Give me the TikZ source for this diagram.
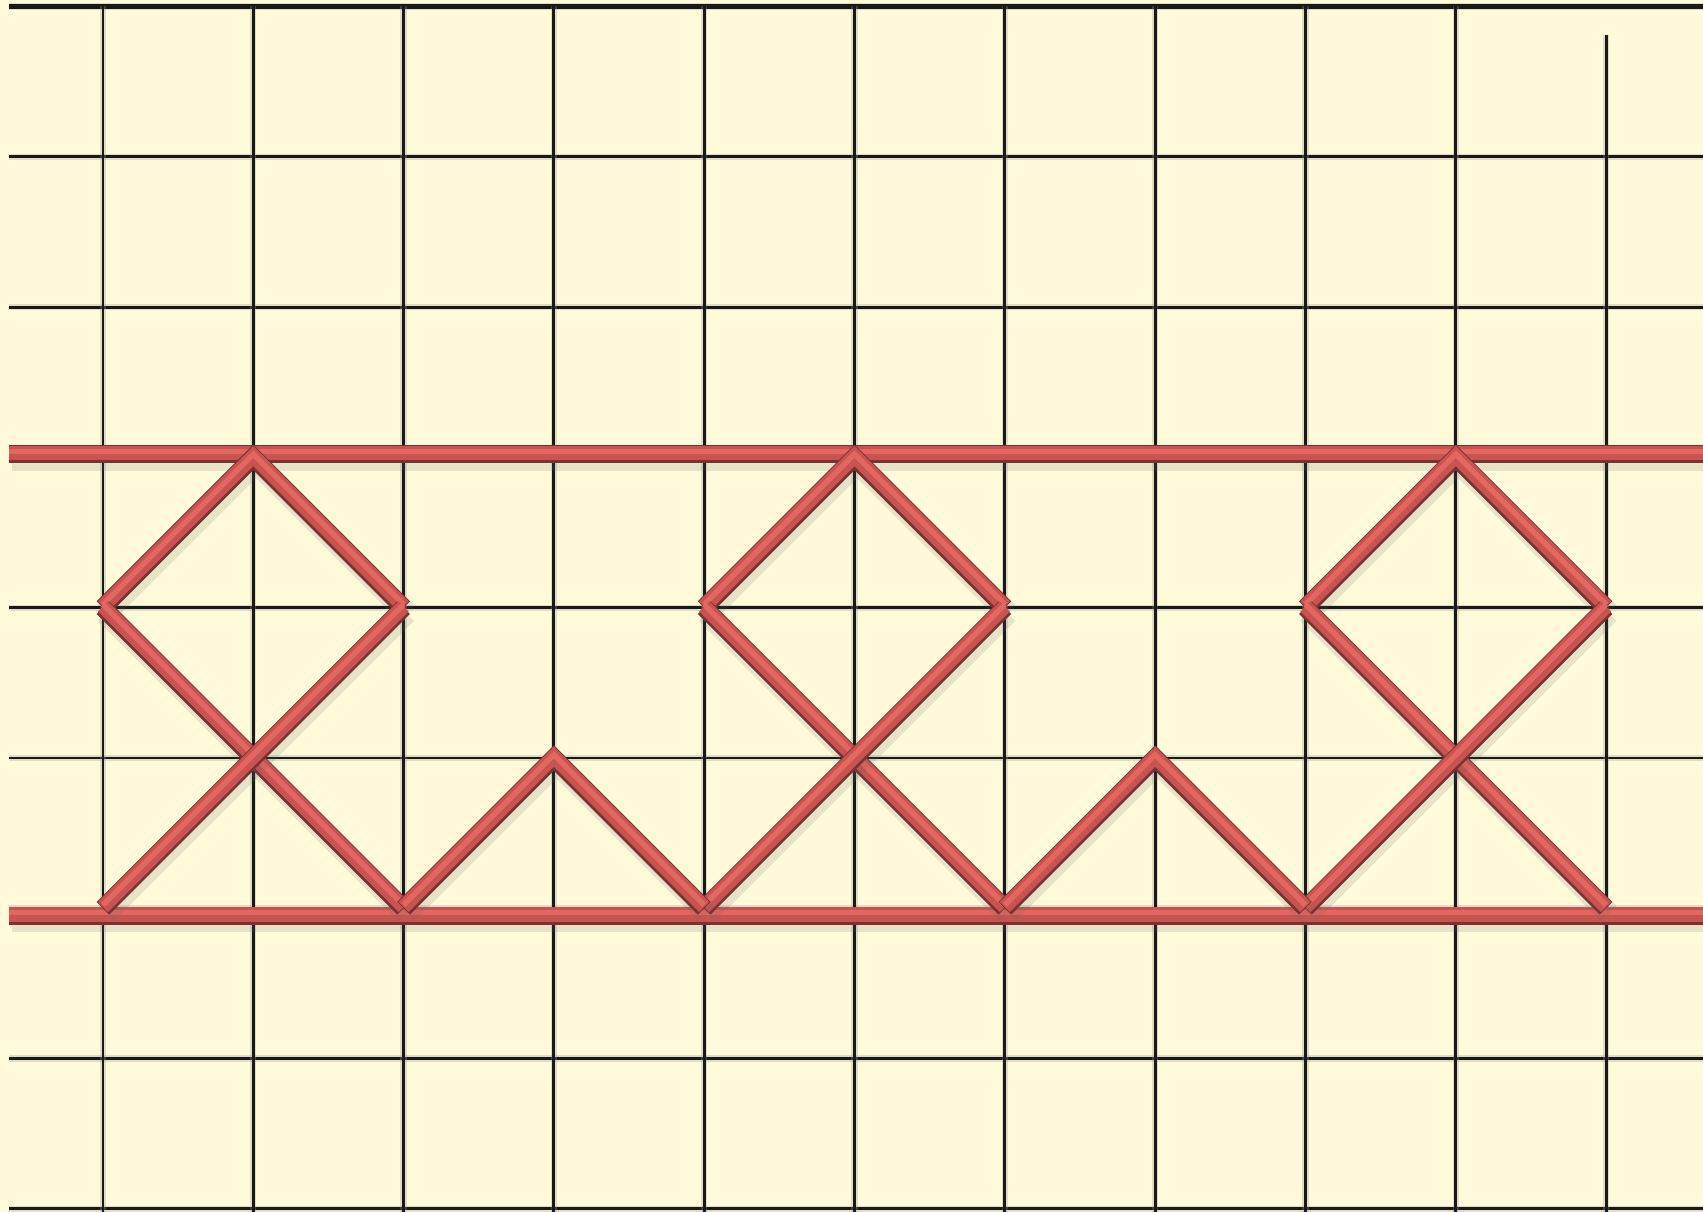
\documentclass[tikz,border=0pt]{standalone}
\usetikzlibrary{calc}
\definecolor{paper}{RGB}{255,250,218}
\definecolor{rodmid}{RGB}{200,84,82}
\definecolor{rodlight}{RGB}{228,102,96}
\definecolor{roddark}{RGB}{122,50,50}
\tikzset{
  gridline/.style={line width=0.55pt, draw=black!90,
    preaction={draw=black!40, opacity=0.3, line width=1.2pt}},
  rod/.style={line width=3.4pt, draw=roddark, line cap=butt, line join=miter,
    preaction={draw=black!60, opacity=0.15, line width=4.2pt,
      transform canvas={xshift=0.5pt,yshift=-1.0pt}},
    postaction={draw=rodmid, line width=2.7pt, transform canvas={yshift=0.25pt}},
    postaction={draw=rodlight, line width=1.0pt, transform canvas={yshift=0.6pt}}}
}
\begin{document}
\begin{tikzpicture}[x=1cm, y=1cm]
  % Paper
  \fill[paper] (0.315,-0.02) rectangle (11.645,8.043);
  \useasboundingbox (0.315,-0.02) rectangle (11.645,8.043);
  % Grid
  \foreach \r in {0,...,7}
    \draw[gridline] (0.375,\r) -- (11.645,\r);
  \draw[gridline, line width=0.9pt] (0.375,8) -- (11.645,8);
  \foreach \c in {1,...,10}
    \draw[gridline] (\c,8) -- (\c,-0.02);
  \draw[gridline] (11,7.81) -- (11,-0.02);
  % Joints
  \coordinate (a1) at (2,5);  \coordinate (a2) at (6,5);  \coordinate (a3) at (10,5);
  \coordinate (l1) at (1,4);  \coordinate (l2) at (5,4);  \coordinate (l3) at (9,4);
  \coordinate (r1) at (3,4);  \coordinate (r2) at (7,4);  \coordinate (r3) at (11,4);
  \coordinate (b0) at (1,2);  \coordinate (b1) at (3,2);  \coordinate (b2) at (5,2);
  \coordinate (b3) at (7,2);  \coordinate (b4) at (9,2);  \coordinate (b5) at (11,2);
  \coordinate (p1) at (4,3);  \coordinate (p2) at (8,3);
  % Chords
  \draw[rod] (0.375,5.02) -- (11.645,5.02);
  \draw[rod] (0.375,1.95) -- (11.645,1.95);
  % Diamonds on top
  \draw[rod] (l1) -- (a1) -- (r1);
  \draw[rod] (l2) -- (a2) -- (r2);
  \draw[rod] (l3) -- (a3) -- (r3);
  % Crossed bracing
  \draw[rod] (l1) -- (b1);
  \draw[rod] (b0) -- (r1);
  \draw[rod] (l2) -- (b3);
  \draw[rod] (b2) -- (r2);
  \draw[rod] (l3) -- (b5);
  \draw[rod] (b4) -- (r3);
  % Zigzag between
  \draw[rod] (b1) -- (p1) -- (b2);
  \draw[rod] (b3) -- (p2) -- (b4);
\end{tikzpicture}
\end{document}
